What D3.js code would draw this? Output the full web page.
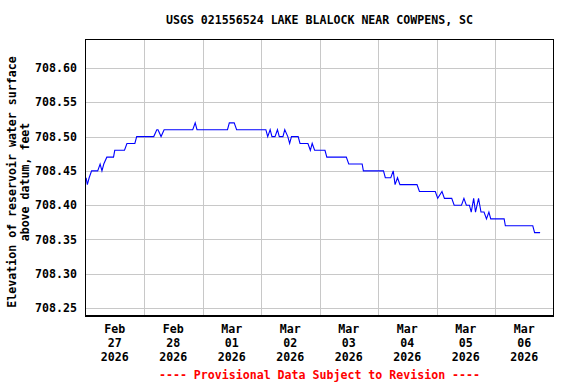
<!DOCTYPE html>
<html><head><meta charset="utf-8">
<script src="https://cdn.jsdelivr.net/npm/d3@7"></script>
<style>
html,body{margin:0;padding:0;background:#fff;}
text{font-family:"DejaVu Sans Mono",monospace;font-weight:bold;font-size:11.6px;fill:#000;}
</style></head>
<body><svg id="chart" width="576" height="384"></svg>
<script>
const title = "USGS 021556524 LAKE BLALOCK NEAR COWPENS, SC";
const yLabelLines = ["Elevation of reservoir water surface", "above datum, feet"];
const footer = "---- Provisional Data Subject to Revision ----";
const yTicks = [708.25, 708.30, 708.35, 708.40, 708.45, 708.50, 708.55, 708.60];
const dayTicks = ["2026-02-27","2026-02-28","2026-03-01","2026-03-02","2026-03-03","2026-03-04","2026-03-05","2026-03-06"];
const times = [
"2026-02-27T00:15","2026-02-27T00:45","2026-02-27T01:30","2026-02-27T02:30","2026-02-27T05:00","2026-02-27T06:00",
"2026-02-27T06:45","2026-02-27T07:30","2026-02-27T08:45","2026-02-27T11:30","2026-02-27T12:00","2026-02-27T16:00",
"2026-02-27T17:00","2026-02-27T20:15","2026-02-27T21:00","2026-02-28T04:00","2026-02-28T05:15","2026-02-28T05:45",
"2026-02-28T07:00","2026-02-28T08:15","2026-02-28T20:00","2026-02-28T21:00","2026-02-28T21:45","2026-03-01T10:15",
"2026-03-01T11:00","2026-03-01T13:00","2026-03-01T14:00","2026-03-02T02:00","2026-03-02T02:45","2026-03-02T03:45",
"2026-03-02T04:30","2026-03-02T05:45","2026-03-02T06:45","2026-03-02T07:30","2026-03-02T09:00","2026-03-02T09:45",
"2026-03-02T11:00","2026-03-02T11:45","2026-03-02T12:30","2026-03-02T15:15","2026-03-02T16:00","2026-03-02T19:15",
"2026-03-02T20:15","2026-03-02T21:00","2026-03-02T22:00","2026-03-03T02:15","2026-03-03T03:00","2026-03-03T11:00",
"2026-03-03T12:00","2026-03-03T17:30","2026-03-03T18:00","2026-03-04T02:15","2026-03-04T03:00","2026-03-04T05:15",
"2026-03-04T06:15","2026-03-04T07:00","2026-03-04T08:00","2026-03-04T09:00","2026-03-04T16:00","2026-03-04T17:00",
"2026-03-04T23:30","2026-03-05T00:30","2026-03-05T02:15","2026-03-05T03:15","2026-03-05T06:15","2026-03-05T07:15",
"2026-03-05T10:15","2026-03-05T11:15","2026-03-05T12:15","2026-03-05T13:30","2026-03-05T14:15","2026-03-05T15:15",
"2026-03-05T16:00","2026-03-05T17:15","2026-03-05T18:15","2026-03-05T19:30","2026-03-05T20:30","2026-03-05T21:30",
"2026-03-05T22:15","2026-03-06T03:45","2026-03-06T04:15","2026-03-06T15:30","2026-03-06T16:15","2026-03-06T18:30"];
const values = [
708.44,708.43,708.44,708.45,708.45,708.46,
708.45,708.46,708.47,708.47,708.48,708.48,
708.49,708.49,708.50,708.50,708.51,708.51,
708.50,708.51,708.51,708.52,708.51,708.51,
708.52,708.52,708.51,708.51,708.50,708.51,
708.50,708.50,708.51,708.50,708.50,708.51,
708.50,708.49,708.50,708.50,708.49,708.49,
708.48,708.49,708.48,708.48,708.47,708.47,
708.46,708.46,708.45,708.45,708.44,708.44,
708.45,708.43,708.44,708.43,708.43,708.42,
708.42,708.41,708.42,708.41,708.41,708.40,
708.40,708.41,708.40,708.40,708.39,708.41,
708.39,708.41,708.39,708.39,708.38,708.39,
708.38,708.38,708.37,708.37,708.36,708.36];

const parse = d3.utcParse("%Y-%m-%dT%H:%M");
const parseDay = d3.utcParse("%Y-%m-%d");
const data = times.map((t,i)=>({t:parse(t), v:values[i]}));

const svg = d3.select("#chart");
const L = 85.5, R = 553.5, T = 39.5, B = 316;
const x = d3.scaleUtc().domain([parseDay("2026-02-27"), parseDay("2026-03-07")]).range([L, R]);
const y = d3.scaleLinear().domain([708.2385, 708.6415]).range([B, T]);

// grid
const g = svg.append("g").attr("shape-rendering","crispEdges");
const gridDays = d3.utcDay.range(parseDay("2026-02-28"), parseDay("2026-03-07"));
g.selectAll("line.vx").data(gridDays).enter().append("line")
  .attr("x1", d=>Math.round(x(d))+0.5).attr("x2", d=>Math.round(x(d))+0.5)
  .attr("y1", T).attr("y2", B).attr("stroke","#c8c8c8").attr("stroke-width",1);
g.selectAll("line.hy").data(yTicks).enter().append("line")
  .attr("y1", d=>Math.round(y(d))+0.5).attr("y2", d=>Math.round(y(d))+0.5)
  .attr("x1", L).attr("x2", R).attr("stroke","#c8c8c8").attr("stroke-width",1);

// data line
svg.append("path").datum(data)
  .attr("d", d3.line().x(d=>x(d.t)).y(d=>y(d.v)))
  .attr("fill","none").attr("stroke","#0000ff").attr("stroke-width",1.1);

// frame
svg.append("rect").attr("x",L).attr("y",T).attr("width",R-L).attr("height",B-T)
  .attr("fill","none").attr("stroke","#000").attr("stroke-width",1.3).attr("shape-rendering","crispEdges");

// y tick labels
svg.selectAll("text.yt").data(yTicks).enter().append("text")
  .attr("x", 77).attr("y", d=>y(d)).attr("dy","0.35em").attr("text-anchor","end")
  .text(d=>d3.format(".2f")(d));

// x tick labels
const fmtM = d3.utcFormat("%b"), fmtD = d3.utcFormat("%d"), fmtY = d3.utcFormat("%Y");
dayTicks.forEach(s=>{
  const d = parseDay(s);
  const cx = x(d3.utcHour.offset(d, 12));
  const t = svg.append("text").attr("text-anchor","middle").attr("x",cx);
  [fmtM(d), fmtD(d), fmtY(d)].forEach((str,i)=>{
    t.append("tspan").attr("x",cx).attr("y",333 + i*14).text(str);
  });
});

// title
svg.append("text").attr("x",(L+R)/2).attr("y",24).attr("text-anchor","middle").text(title);

// y axis label
const yl = svg.append("text").attr("transform","translate(0,182) rotate(-90)").attr("text-anchor","middle");
yLabelLines.forEach((s,i)=>{
  yl.append("tspan").attr("x",0).attr("y",16 + i*13).text(s);
});

// footer
svg.append("text").attr("x",(L+R)/2).attr("y",379).attr("text-anchor","middle")
  .style("fill","#ff0000").text(footer);
</script></body></html>
